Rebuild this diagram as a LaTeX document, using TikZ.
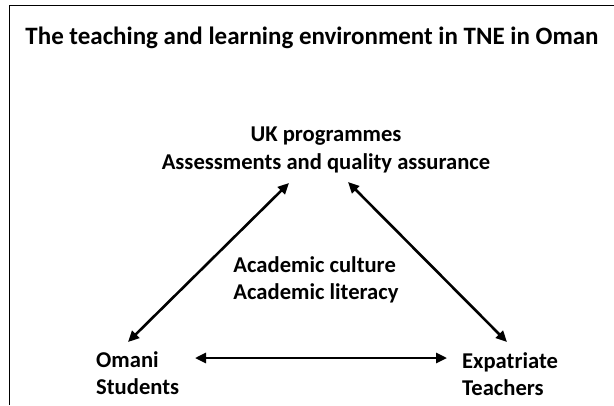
\documentclass[tikz,border=0pt]{standalone}
\usepackage{fontspec}
\setmainfont{Carlito}
\usetikzlibrary{arrows.meta}
\begin{document}
\begin{tikzpicture}[x=1pt,y=-1pt,
  lbl/.style={font=\bfseries\fontsize{22.6}{27.5}\selectfont, inner sep=0pt, align=center},
  lbll/.style={font=\bfseries\fontsize{22.6}{26.5}\selectfont, inner sep=0pt, align=left},
  ttl/.style={font=\bfseries\fontsize{25}{28}\selectfont, inner sep=0pt},
  dbl/.style={line width=2.6pt, {Triangle[length=11pt,width=10pt]}-{Triangle[length=11pt,width=10pt]}}]
\useasboundingbox (0,0) rectangle (614,405);
\draw[line width=1pt] (9,405) -- (9,5.5) -- (614,5.5);
\node[ttl] (title) at (312,38) {The teaching and learning environment in TNE in Oman};
\node[lbl] (uk) at (326,150) {UK programmes\\Assessments and quality assurance};
\node[lbll] (ac) at (316,280) {Academic culture\\Academic literacy};
\node[lbll,anchor=west] (om) at (96,373) {Omani\\Students};
\node[lbll,anchor=west] (ex) at (462,374) {Expatriate\\Teachers};
\coordinate (l1) at (128,342);
\coordinate (l2) at (289,183);
\coordinate (r1) at (348,182);
\coordinate (r2) at (507,342);
\coordinate (h1) at (195,358);
\coordinate (h2) at (447,358);
\draw[dbl] (l1) -- (l2);
\draw[dbl] (r1) -- (r2);
\draw[dbl] (h1) -- (h2);
\end{tikzpicture}
\end{document}
